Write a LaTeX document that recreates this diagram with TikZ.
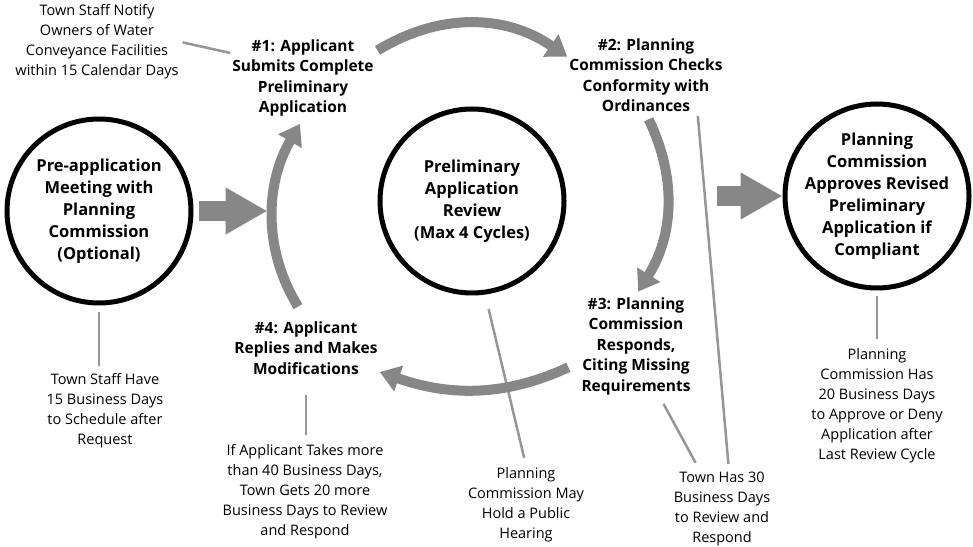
\documentclass[tikz,border=0pt]{standalone}
\usepackage{fontspec}
\setmainfont{Open Sans}
\usepackage{xcolor}
\usepackage{tikz}
\usetikzlibrary{arrows.meta,positioning,calc}
\definecolor{ink}{RGB}{0,0,0}
\definecolor{hatch}{RGB}{135,135,135}
\definecolor{leadgray}{RGB}{150,150,150}

\begin{document}
\begin{tikzpicture}[x=1pt,y=1pt,
    stage/.style={circle,draw=ink,line width=5pt,minimum size=184pt,inner sep=0pt},
    stagetext/.style={align=center,font=\bfseries\fontsize{16.5}{22}\selectfont},
    stepbox/.style={align=center,inner sep=2pt,font=\bfseries\fontsize{15.5}{20.5}\selectfont},
    notebox/.style={align=center,inner sep=2pt,font=\fontsize{14.5}{20}\selectfont},
    looparrow/.style={hatch,line width=10pt,-{Triangle[length=20pt,width=26pt]}},
    blockarrow/.style={hatch,line width=20pt,-{Triangle[length=42pt,width=44pt]}},
    leadline/.style={leadgray,line width=2.5pt}]

    \useasboundingbox (0,0) rectangle (973,546);

    % Stages
    \node[stage] (pre) at (99,335) {};
    \node[stage] (rev) at (472,345) {};
    \node[stage] (fin) at (877,350) {};
    \node[stagetext] at (pre) {Pre-application\\Meeting with\\Planning\\Commission\\(Optional)};
    \node[stagetext] at (rev) {Preliminary\\Application\\Review\\(Max 4 Cycles)};
    \node[stagetext] at (fin) {Planning\\Commission\\Approves Revised\\Preliminary\\Application if\\Compliant};

    % Review steps
    \node[stepbox] (s1) at (303,468) {\#1: Applicant\\Submits Complete\\Preliminary\\Application};
    \node[stepbox] (s2) at (646,471) {\#2: Planning\\Commission Checks\\Conformity with\\Ordinances};
    \node[stepbox] (s3) at (636,200) {\#3: Planning\\Commission\\Responds,\\Citing Missing\\Requirements};
    \node[stepbox] (s4) at (306,198) {\#4: Applicant\\Replies and Makes\\Modifications};

    % Notes
    \node[notebox] (notify) at (97,504) {Town Staff Notify\\Owners of Water\\Conveyance Facilities\\within 15 Calendar Days};
    \node[notebox] (sched) at (105,135) {Town Staff Have\\15 Business Days\\to Schedule after\\Request};
    \node[notebox] (late) at (305,54) {If Applicant Takes more\\than 40 Business Days,\\Town Gets 20 more\\Business Days to Review\\and Respond};
    \node[notebox] (hear) at (526,41) {Planning\\Commission May\\Hold a Public\\Hearing};
    \node[notebox] (resp) at (722,37) {Town Has 30\\Business Days\\to Review and\\Respond};
    \node[notebox] (decide) at (877,140) {Planning\\Commission Has\\20 Business Days\\to Approve or Deny\\Application after\\Last Review Cycle};

    % Leader lines
    \draw[leadline,shorten <=2pt] (notify.east) -- (s1.161);
    \draw[leadline,shorten <=7pt,shorten >=6pt] (pre.south) -- (pre.south |- sched.north);
    \draw[leadline,shorten <=18pt,shorten >=8pt] (s4.south) -- (s4.south |- late.north);
    \draw[leadline,shorten <=15pt,shorten >=8pt] (rev.-82) -- (hear.north);
    \draw[leadline,shorten <=8pt,shorten >=8pt] (s3.-65) -- (resp.120);
    \draw[leadline,shorten <=2pt,shorten >=6pt] (s2.-37) -- (resp.80);
    \draw[leadline,shorten <=6pt,shorten >=8pt] (fin.south) -- (decide.north);

    % Review cycle
    \draw[looparrow,shorten <=2pt] (s1.20) to[bend left=33] (s2.167);
    \draw[looparrow,shorten <=6pt,shorten >=4pt] (s2.south) to[bend left=29] (s3.north);
    \draw[looparrow,shorten <=12pt] (s3.196) to[bend left=22] (s4.342);
    \draw[looparrow,shorten <=15pt,shorten >=6pt] (s4.north) to[bend left=31] (s1.south);

    % Block arrows
    \draw[blockarrow] ([xshift=5pt]pre.east) -- ++(69,0);
    \draw[blockarrow] ([xshift=-66pt]fin.west) -- (fin.west);

\end{tikzpicture}
\end{document}
